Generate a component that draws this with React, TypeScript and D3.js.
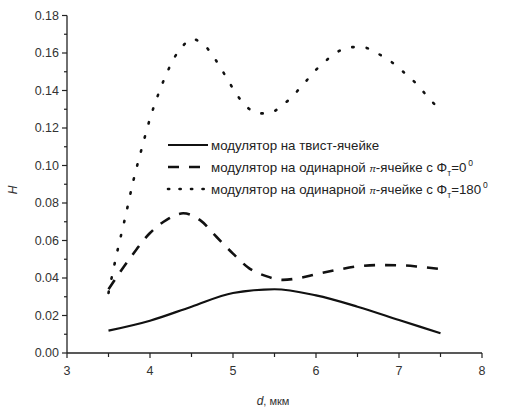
import * as d3 from "d3";

const W = 505;
const H = 409;
const margin = { left: 67, right: 23, top: 15.5, bottom: 56 };
const innerW = W - margin.left - margin.right;
const innerH = H - margin.top - margin.bottom;

const twistX = [3.5, 4.0, 4.5, 5.0, 5.5, 6.0, 6.5, 7.0, 7.5];
const twistY = [0.0119, 0.0172, 0.0247, 0.032, 0.034, 0.0307, 0.0247, 0.0176, 0.0105];

const pi0X = [3.5, 3.75, 4.0, 4.2, 4.4, 4.6, 4.8, 5.0, 5.2, 5.4, 5.6, 5.8, 6.0, 6.25, 6.5, 6.75, 7.0, 7.25, 7.5];
const pi0Y = [0.034, 0.05, 0.064, 0.071, 0.0745, 0.071, 0.062, 0.053, 0.045, 0.041, 0.039, 0.04, 0.042, 0.0443, 0.0462, 0.0469, 0.0468, 0.046, 0.0448];

const pi180X = [
  3.5, 3.6, 3.7, 3.8, 3.9, 4.0, 4.1, 4.2, 4.3, 4.4, 4.5, 4.6, 4.7, 4.8, 4.9, 5.0, 5.1, 5.2, 5.3, 5.4,
  5.5, 5.6, 5.7, 5.8, 5.9, 6.0, 6.1, 6.2, 6.3, 6.4, 6.5, 6.6, 6.7, 6.8, 6.9, 7.0, 7.1, 7.2, 7.3, 7.4, 7.5,
];
const pi180Y = [
  0.032, 0.053, 0.072, 0.092, 0.109, 0.125, 0.138, 0.149, 0.158, 0.164, 0.1675, 0.166, 0.162, 0.1557,
  0.1485, 0.141, 0.1345, 0.13, 0.1278, 0.1278, 0.129, 0.1325, 0.136, 0.141, 0.146, 0.151, 0.155, 0.159,
  0.1615, 0.163, 0.1632, 0.1628, 0.1608, 0.1583, 0.1555, 0.152, 0.148, 0.144, 0.139, 0.134, 0.1296,
];

const xTicks = [3, 4, 5, 6, 7, 8];
const yTicks = [0, 0.02, 0.04, 0.06, 0.08, 0.1, 0.12, 0.14, 0.16, 0.18];

const series = [
  { xs: twistX, ys: twistY, dash: "none", width: 2.2, cap: "butt" as const },
  { xs: pi0X, ys: pi0Y, dash: "11 10", width: 2.6, cap: "butt" as const },
  { xs: pi180X, ys: pi180Y, dash: "1.4 13.1", width: 2.6, cap: "round" as const },
];

const font = "'Liberation Sans', Arial, sans-serif";
const textColor = "#333";

export default function App() {
  const x = d3.scaleLinear().domain([3, 8]).range([0, innerW]);
  const y = d3.scaleLinear().domain([0, 0.18]).range([innerH, 0]);
  const line = d3
    .line<[number, number]>()
    .x((d) => x(d[0]))
    .y((d) => y(d[1]))
    .curve(d3.curveMonotoneX);

  const xMinor = d3.range(3.5, 8, 1);
  const yMinor = d3.range(0.01, 0.18, 0.02);

  const legendX = 168;
  const legendY = [145, 167, 189];
  const lf = 13.3;

  return (
    <svg
      width={W}
      height={H}
      style={{ position: "absolute", left: 0, top: 0, background: "white" }}
      fontFamily={font}
    >
      <g transform={`translate(${margin.left},${margin.top})`}>
        {series.map((s, i) => (
          <path
            key={i}
            d={line(s.xs.map((v, j) => [v, s.ys[j]] as [number, number])) ?? ""}
            fill="none"
            stroke="#111"
            strokeWidth={s.width}
            strokeDasharray={s.dash}
            strokeLinecap={s.cap}
          />
        ))}

        {/* axes */}
        <line x1={0} x2={0} y1={0} y2={innerH} stroke="#222" strokeWidth={1.3} />
        <line x1={0} x2={innerW} y1={innerH} y2={innerH} stroke="#222" strokeWidth={1.3} />
        {yTicks.map((t) => (
          <g key={t} transform={`translate(0,${y(t)})`}>
            <line x1={-5} x2={0} stroke="#222" strokeWidth={1.2} />
            <text x={-8} dy="0.35em" textAnchor="end" fontSize={12.5} fill={textColor}>
              {t.toFixed(2)}
            </text>
          </g>
        ))}
        {yMinor.map((t) => (
          <line key={t} x1={-3} x2={0} y1={y(t)} y2={y(t)} stroke="#222" strokeWidth={1.2} />
        ))}
        {xTicks.map((t) => (
          <g key={t} transform={`translate(${x(t)},${innerH})`}>
            <line y1={0} y2={5} stroke="#222" strokeWidth={1.2} />
            <text y={22} textAnchor="middle" fontSize={12.5} fill={textColor}>
              {t}
            </text>
          </g>
        ))}
        {xMinor.map((t) => (
          <line key={t} x1={x(t)} x2={x(t)} y1={innerH} y2={innerH + 4} stroke="#222" strokeWidth={1.2} />
        ))}
      </g>

      {/* axis titles */}
      <text
        transform="translate(17,190) rotate(-90)"
        textAnchor="middle"
        fontSize={12}
        fontStyle="italic"
        fill={textColor}
      >
        H
      </text>
      <text x={273} y={405} textAnchor="middle" fontSize={11} fill={textColor}>
        <tspan fontStyle="italic" fontSize={12}>d</tspan>, мкм
      </text>

      {/* legend */}
      {series.map((s, i) => (
        <line
          key={i}
          x1={legendX}
          x2={legendX + 40}
          y1={legendY[i]}
          y2={legendY[i]}
          stroke="#111"
          strokeWidth={s.width}
          strokeDasharray={i === 2 ? "1.2 10.3" : s.dash}
          strokeLinecap={s.cap}
        />
      ))}
      <text x={211} y={legendY[0] + 4.5} fontSize={lf} fill="#222">
        модулятор на твист-ячейке
      </text>
      <text x={211} y={legendY[1] + 4.5} fontSize={lf} fill="#222">
        модулятор на одинарной <tspan fontStyle="italic" fontSize={9.5}>π</tspan>-ячейке с Φ
        <tspan fontSize={8.5} dy={4}>т</tspan>
        <tspan dy={-4}>=0</tspan>
        <tspan fontSize={8.5} dy={-6} dx={2}>0</tspan>
      </text>
      <text x={211} y={legendY[2] + 4.5} fontSize={lf} fill="#222">
        модулятор на одинарной <tspan fontStyle="italic" fontSize={9.5}>π</tspan>-ячейке с Φ
        <tspan fontSize={8.5} dy={4}>т</tspan>
        <tspan dy={-4}>=180</tspan>
        <tspan fontSize={8.5} dy={-6} dx={2}>0</tspan>
      </text>
    </svg>
  );
}
